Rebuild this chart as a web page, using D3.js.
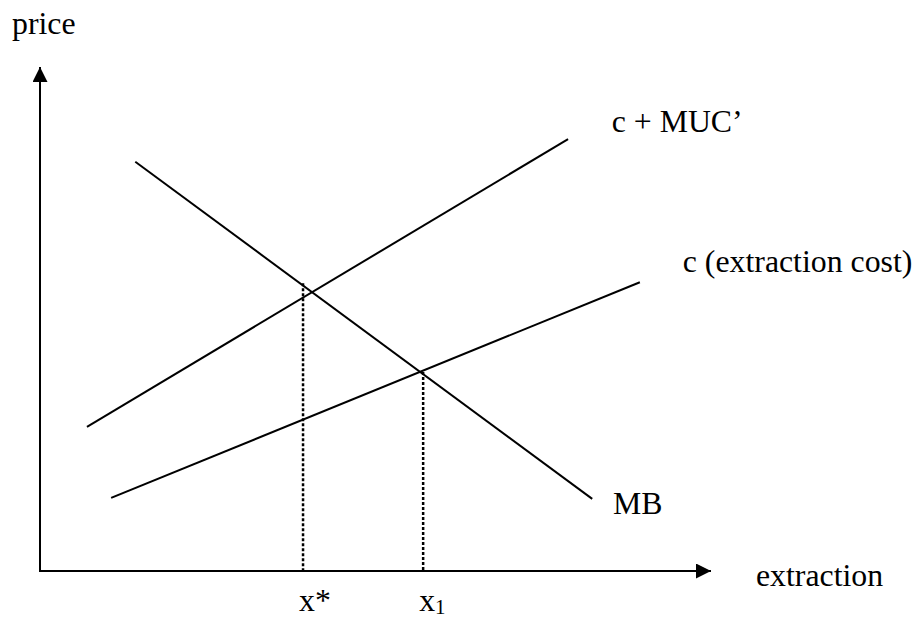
<!DOCTYPE html>
<html lang="en">
<head>
  <meta charset="UTF-8">
  <title>Extraction: MB vs c + MUC'</title>
  <script src="https://d3js.org/d3.v7.min.js"></script>
  <style>
    body {
      margin: 0;
      background: #fff;
    }
    svg {
      display: block;
    }
    text {
      font-family: "Liberation Serif", "Times New Roman", serif;
      font-size: 31.8px;
      fill: #000;
    }
  </style>
</head>
<body>
<svg></svg>
<script>
  // curves in chart units (x: extraction 0-100, y: price 0-100)
  const curveNames = ["MB", "c + MUC\u2019", "c (extraction cost)"];
  const curveX = [[14.2, 82.3], [7.0, 78.7], [10.6, 89.4]];
  const curveY = [[81.2, 14.3], [28.6, 85.7], [14.5, 57.3]];
  // where each label sits, in chart units
  const labelX = [85.4, 85.2, 95.8];
  const labelY = [11.3, 87.1, 59.3];

  // dotted drop lines to the extraction axis
  const dropNames = ["x*", "x"];
  const dropSubs = ["", "1"];
  const dropX = [39.2, 57.1];
  const dropTop = [57.1, 39.5];

  const axisNames = ["price", "extraction"];

  const width = 918, height = 619;
  const svg = d3.select("svg").attr("width", width).attr("height", height);

  const x = d3.scaleLinear().domain([0, 100]).range([40, 711]);
  const y = d3.scaleLinear().domain([0, 100]).range([571, 67]);

  const defs = svg.append("defs");
  defs.append("marker")
    .attr("id", "arrow")
    .attr("viewBox", "0 0 15 15")
    .attr("refX", 15).attr("refY", 7.5)
    .attr("markerWidth", 15).attr("markerHeight", 15)
    .attr("markerUnits", "userSpaceOnUse")
    .attr("orient", "auto")
    .append("path")
    .attr("d", "M0,0 L15,7.5 L0,15 Z")
    .attr("fill", "#000");

  // axes
  svg.append("line")
    .attr("x1", x(0)).attr("y1", y(0))
    .attr("x2", x(0)).attr("y2", y(100))
    .attr("stroke", "#000").attr("stroke-width", 2)
    .attr("marker-end", "url(#arrow)");
  svg.append("line")
    .attr("x1", x(0) - 1).attr("y1", y(0))
    .attr("x2", x(100)).attr("y2", y(0))
    .attr("stroke", "#000").attr("stroke-width", 2)
    .attr("marker-end", "url(#arrow)");

  svg.append("text").attr("x", 12).attr("y", 34).text(axisNames[0]);
  svg.append("text").attr("x", x(100) + 45).attr("y", y(0) + 15).text(axisNames[1]);

  // curves
  svg.append("g").selectAll("line")
    .data(curveNames)
    .join("line")
    .attr("x1", (d, i) => x(curveX[i][0]))
    .attr("y1", (d, i) => y(curveY[i][0]))
    .attr("x2", (d, i) => x(curveX[i][1]))
    .attr("y2", (d, i) => y(curveY[i][1]))
    .attr("stroke", "#000")
    .attr("stroke-width", 2);

  svg.append("g").selectAll("text")
    .data(curveNames)
    .join("text")
    .attr("x", (d, i) => x(labelX[i]))
    .attr("y", (d, i) => y(labelY[i]))
    .text(d => d);

  // dotted drop lines
  svg.append("g").selectAll("line")
    .data(dropX)
    .join("line")
    .attr("x1", d => x(d)).attr("x2", d => x(d))
    .attr("y1", (d, i) => y(dropTop[i]))
    .attr("y2", y(0))
    .attr("stroke", "#000")
    .attr("stroke-width", 2.5)
    .attr("stroke-dasharray", "3,2");

  const dl = svg.append("g").selectAll("text")
    .data(dropNames)
    .join("text")
    .attr("x", (d, i) => x(dropX[i]) - 4)
    .attr("y", y(0) + 40)
    .text(d => d);
  dl.append("tspan")
    .attr("font-size", "21px")
    .attr("dy", 3)
    .text((d, i) => dropSubs[i]);
</script>
</body>
</html>
